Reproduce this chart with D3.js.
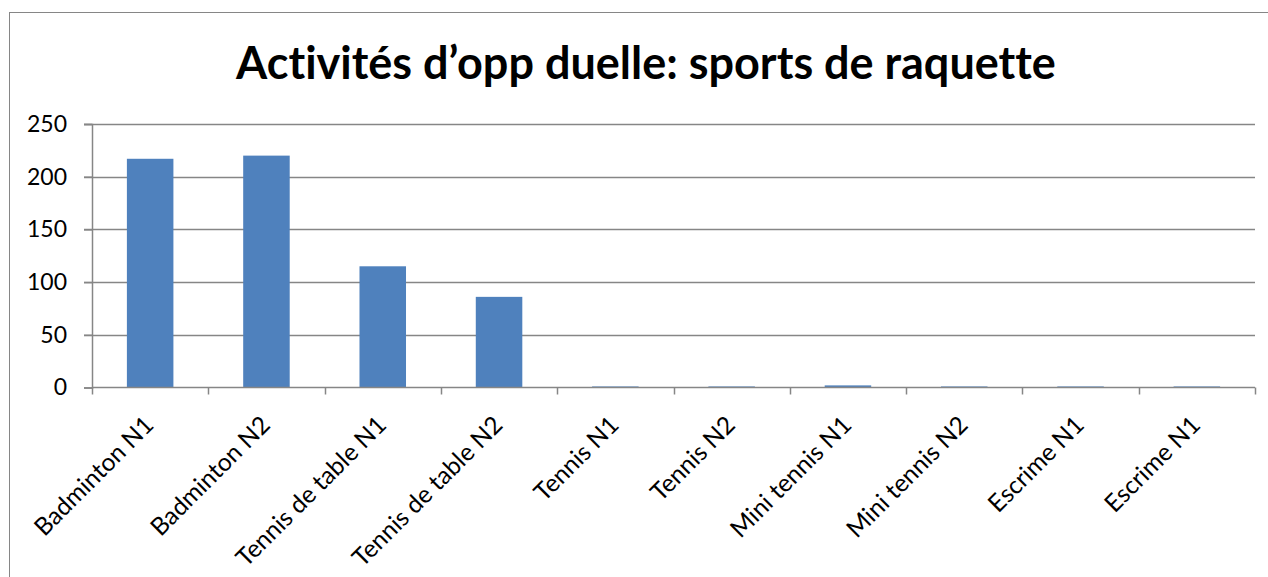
<!DOCTYPE html>
<html>
<head>
<meta charset="utf-8">
<script src="https://cdnjs.cloudflare.com/ajax/libs/d3/7.8.5/d3.min.js"></script>
<style>
  body { margin: 0; background: #fff; }
  svg { display: block; }
  text { font-variant-ligatures: none; }
</style>
</head>
<body>
<div id="chart"></div>
<script>
// data
var categories = ["Badminton N1", "Badminton N2", "Tennis de table N1", "Tennis de table N2",
  "Tennis N1", "Tennis N2", "Mini tennis N1", "Mini tennis N2", "Escrime N1", "Escrime N1"];
var values = [217, 220, 115, 86, 1, 1, 2, 1, 1, 1];
var yTicks = [0, 50, 100, 150, 200, 250];
var title = "Activités d’opp duelle: sports de raquette";

var w = 1268, h = 577;
var margin = {left: 92, right: 13, top: 124, bottom: 189.5}; // plot box
var gridColor = "#868686";
var font = "Lato, 'Open Sans', sans-serif";

var svg = d3.select("#chart").append("svg")
  .attr("width", w)
  .attr("height", h);

// outer chart border (only top and left are visible)
svg.append("rect")
  .attr("x", 9.5).attr("y", 12.5)
  .attr("width", 1400).attr("height", 700)
  .attr("fill", "none")
  .attr("stroke", gridColor);

var x = d3.scaleBand()
  .domain(d3.range(categories.length))
  .range([margin.left, w - margin.right])
  .paddingInner(0.6)
  .paddingOuter(0.3);

var y = d3.scaleLinear()
  .domain([0, 250])
  .range([h - margin.bottom, margin.top]);

// gridlines
svg.append("g").selectAll("line")
  .data(yTicks.slice(1))
  .enter().append("line")
    .attr("x1", margin.left - 8)
    .attr("x2", w - margin.right)
    .attr("y1", function(d) { return Math.round(y(d)) + 0.5; })
    .attr("y2", function(d) { return Math.round(y(d)) + 0.5; })
    .attr("stroke", gridColor)
    .attr("stroke-width", 1.5);

// bars
svg.append("g").selectAll("rect")
  .data(values)
  .enter().append("rect")
    .attr("x", function(d, i) { return x(i); })
    .attr("width", x.bandwidth())
    .attr("y", function(d) { return y(d); })
    .attr("height", function(d) { return y(0) - y(d); })
    .attr("fill", "#4F81BD");

// y axis
var yAxis = svg.append("g")
  .attr("transform", "translate(" + margin.left + ",0)")
  .call(d3.axisLeft(y).tickValues(yTicks).tickSize(8).tickPadding(17));
yAxis.select(".domain").attr("stroke", gridColor).attr("stroke-width", 1.5);
yAxis.selectAll(".tick line").attr("stroke", gridColor).attr("stroke-width", 1.5);
yAxis.selectAll(".tick text")
  .attr("font-family", font)
  .attr("font-size", 23)
  .attr("fill", "#000");

// x axis: ticks on category boundaries
var step = x.step();
var boundaries = d3.range(categories.length + 1).map(function(i) {
  return margin.left + i * step;
});
svg.append("line")
  .attr("x1", margin.left).attr("x2", w - margin.right)
  .attr("y1", y(0)).attr("y2", y(0))
  .attr("stroke", gridColor).attr("stroke-width", 1.5);
svg.append("g").selectAll("line")
  .data(boundaries)
  .enter().append("line")
    .attr("x1", function(d) { return Math.round(d) + 0.5; })
    .attr("x2", function(d) { return Math.round(d) + 0.5; })
    .attr("y1", y(0))
    .attr("y2", y(0) + 7)
    .attr("stroke", gridColor)
    .attr("stroke-width", 1.5);

svg.append("g").selectAll("text")
  .data(categories)
  .enter().append("text")
    .attr("transform", function(d, i) {
      var cx = x(i) + x.bandwidth() / 2 - 8;
      return "translate(" + cx + "," + (y(0) + 26) + ") rotate(-45)";
    })
    .attr("text-anchor", "end")
    .attr("dy", "0.75em")
    .attr("font-family", font)
    .attr("font-size", 24.5)
    .attr("fill", "#000")
    .text(function(d) { return d; });

// title
var t = svg.append("text")
  .attr("x", 646)
  .attr("y", 79)
  .attr("text-anchor", "middle")
  .attr("font-family", font)
  .attr("font-weight", "bold")
  .attr("font-size", 40)
  .attr("fill", "#000")
  .text(title);
// fit the title to the width it has in the reference
var tw = t.node().getComputedTextLength();
t.attr("font-size", 40 * 820 / tw);
</script>
</body>
</html>
